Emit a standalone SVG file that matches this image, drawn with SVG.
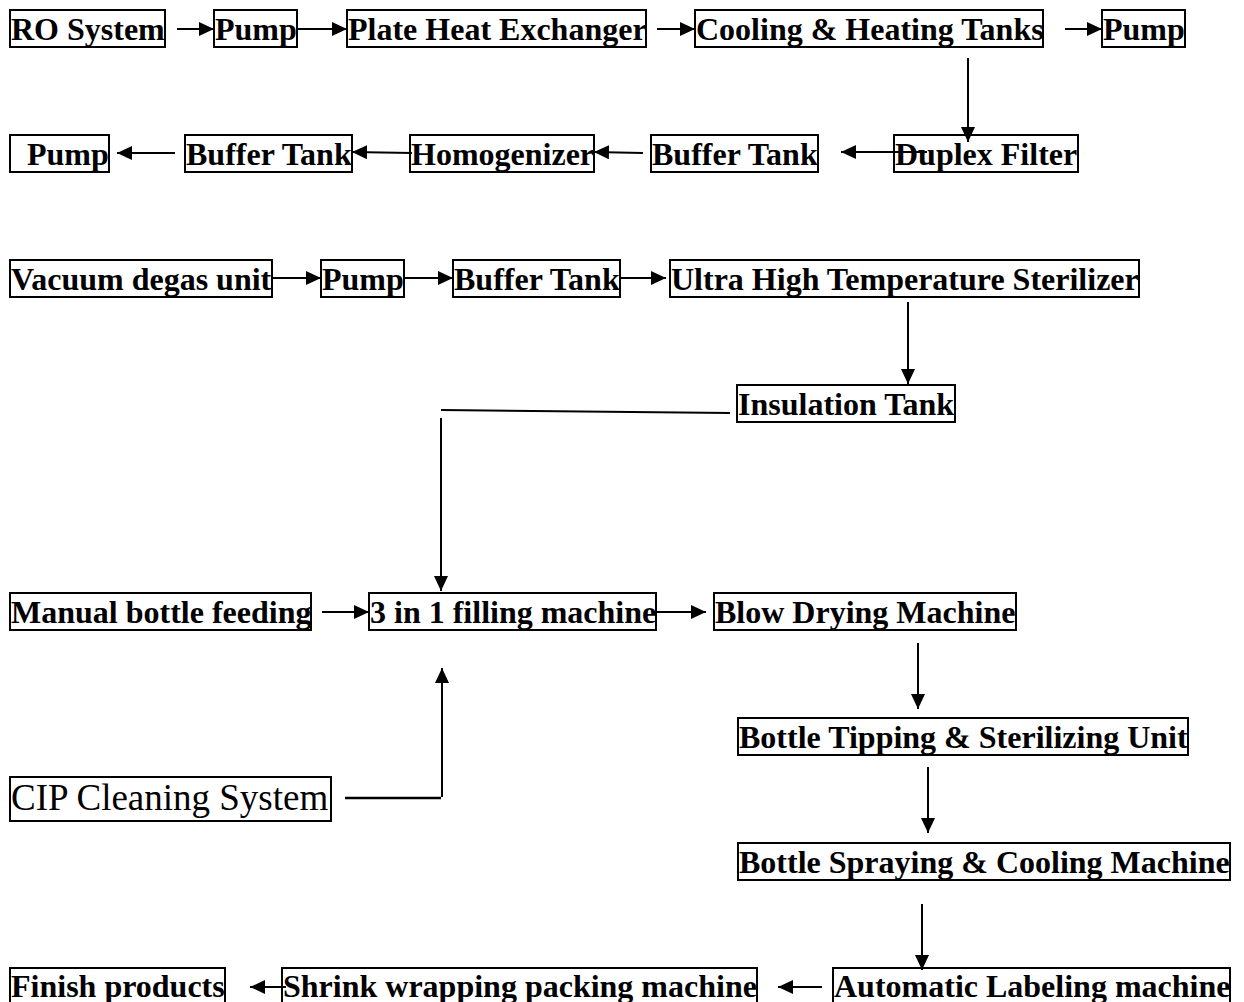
<svg xmlns="http://www.w3.org/2000/svg" width="1244" height="1002" viewBox="0 0 1244 1002">
<style>
.box{fill:#fff;stroke:#000;stroke-width:2}
.t{font-family:"Liberation Serif","Times New Roman",serif;font-weight:bold;font-size:32px;fill:#000}
.r{font-family:"Liberation Serif","Times New Roman",serif;font-size:37px;fill:#000}
.c{stroke:#000;stroke-width:2;fill:none}
.a{marker-end:url(#ah)}
</style>
<defs>
<marker id="ah" markerUnits="userSpaceOnUse" markerWidth="17" markerHeight="15" refX="15" refY="7" orient="auto" viewBox="0 0 17 15">
<path d="M0,0 L15,7 L0,14 z" fill="#000"/>
</marker>
</defs>
<rect width="1244" height="1002" fill="#fff"/>
<g id="n1"><rect class="box" x="10" y="10" width="155" height="37"/><text class="t" x="11" y="40">RO System</text></g>
<g id="n2"><rect class="box" x="214" y="10" width="83" height="37"/><text class="t" x="215" y="40">Pump</text></g>
<g id="n3"><rect class="box" x="347" y="10" width="299" height="37"/><text class="t" x="348" y="40">Plate Heat Exchanger</text></g>
<g id="n4"><rect class="box" x="695" y="10" width="348" height="37"/><text class="t" x="696" y="40">Cooling &amp; Heating Tanks</text></g>
<g id="n5"><rect class="box" x="1102" y="10" width="83" height="37"/><text class="t" x="1103" y="40">Pump</text></g>
<g id="n6"><rect class="box" x="894" y="135" width="184" height="37"/><text class="t" x="895" y="165">Duplex Filter</text></g>
<g id="n7"><rect class="box" x="651" y="135" width="167" height="37"/><text class="t" x="652" y="165">Buffer Tank</text></g>
<g id="n8"><rect class="box" x="410" y="135" width="184" height="37"/><text class="t" x="411" y="165">Homogenizer</text></g>
<g id="n9"><rect class="box" x="185" y="135" width="167" height="37"/><text class="t" x="186" y="165">Buffer Tank</text></g>
<g id="n10"><rect class="box" x="10" y="135" width="99" height="37"/><text class="t" x="27" y="165">Pump</text></g>
<g id="n11"><rect class="box" x="10" y="260" width="262" height="37"/><text class="t" x="11" y="290">Vacuum degas unit</text></g>
<g id="n12"><rect class="box" x="321" y="260" width="83" height="37"/><text class="t" x="322" y="290">Pump</text></g>
<g id="n13"><rect class="box" x="453" y="260" width="167" height="37"/><text class="t" x="454" y="290">Buffer Tank</text></g>
<g id="n14"><rect class="box" x="670" y="260" width="469" height="37"/><text class="t" x="671" y="290">Ultra High Temperature Sterilizer</text></g>
<g id="n15"><rect class="box" x="737" y="385" width="218" height="37"/><text class="t" x="738" y="415">Insulation Tank</text></g>
<g id="n16"><rect class="box" x="10" y="593" width="301" height="37"/><text class="t" x="11" y="623">Manual bottle feeding</text></g>
<g id="n17"><rect class="box" x="369" y="593" width="287" height="37"/><text class="t" x="370" y="623">3 in 1 filling machine</text></g>
<g id="n18"><rect class="box" x="714" y="593" width="302" height="37"/><text class="t" x="715" y="623">Blow Drying Machine</text></g>
<g id="n19"><rect class="box" x="10" y="777" width="321" height="44"/><text class="r" x="11" y="810">CIP Cleaning System</text></g>
<g id="n20"><rect class="box" x="738" y="718" width="450" height="37"/><text class="t" x="739" y="748">Bottle Tipping &amp; Sterilizing Unit</text></g>
<g id="n21"><rect class="box" x="738" y="843" width="492" height="37"/><text class="t" x="739" y="873">Bottle Spraying &amp; Cooling Machine</text></g>
<g id="n22"><rect class="box" x="833" y="968" width="397" height="40"/><text class="t" x="834" y="997">Automatic Labeling machine</text></g>
<g id="n23"><rect class="box" x="282" y="968" width="475" height="40"/><text class="t" x="283" y="997">Shrink wrapping packing machine</text></g>
<g id="n24"><rect class="box" x="10" y="968" width="215" height="40"/><text class="t" x="11" y="997">Finish products</text></g>
<g id="connectors">
<line class="c a" x1="177" y1="29" x2="214" y2="29"/>
<line class="c a" x1="297" y1="29" x2="347" y2="29"/>
<line class="c a" x1="657" y1="29" x2="695" y2="29"/>
<line class="c a" x1="1065" y1="29" x2="1102" y2="29"/>
<line class="c a" x1="968" y1="58" x2="968" y2="142"/>
<line class="c a" x1="927" y1="152" x2="841" y2="152"/>
<line class="c a" x1="643" y1="153" x2="594" y2="152"/>
<line class="c a" x1="412" y1="153" x2="352" y2="152"/>
<line class="c a" x1="175" y1="153" x2="117" y2="153"/>
<line class="c a" x1="272" y1="278" x2="321" y2="278"/>
<line class="c a" x1="404" y1="278" x2="453" y2="278"/>
<line class="c a" x1="620" y1="278" x2="666" y2="278"/>
<line class="c a" x1="908" y1="302" x2="908" y2="384"/>
<line class="c" x1="730" y1="413" x2="441" y2="410"/>
<line class="c a" x1="441" y1="418" x2="441" y2="591"/>
<line class="c a" x1="322" y1="612" x2="369" y2="612"/>
<line class="c a" x1="656" y1="612" x2="706" y2="612"/>
<line class="c a" x1="918" y1="643" x2="918" y2="709"/>
<line class="c" x1="345" y1="798" x2="441" y2="798" style="stroke-width:2.5"/>
<line class="c a" x1="442" y1="797" x2="442" y2="668"/>
<line class="c a" x1="928" y1="767" x2="928" y2="833"/>
<line class="c a" x1="922" y1="904" x2="922" y2="970"/>
<line class="c a" x1="822" y1="987" x2="778" y2="987"/>
<line class="c a" x1="286" y1="987" x2="250" y2="987"/>
</g>
</svg>
